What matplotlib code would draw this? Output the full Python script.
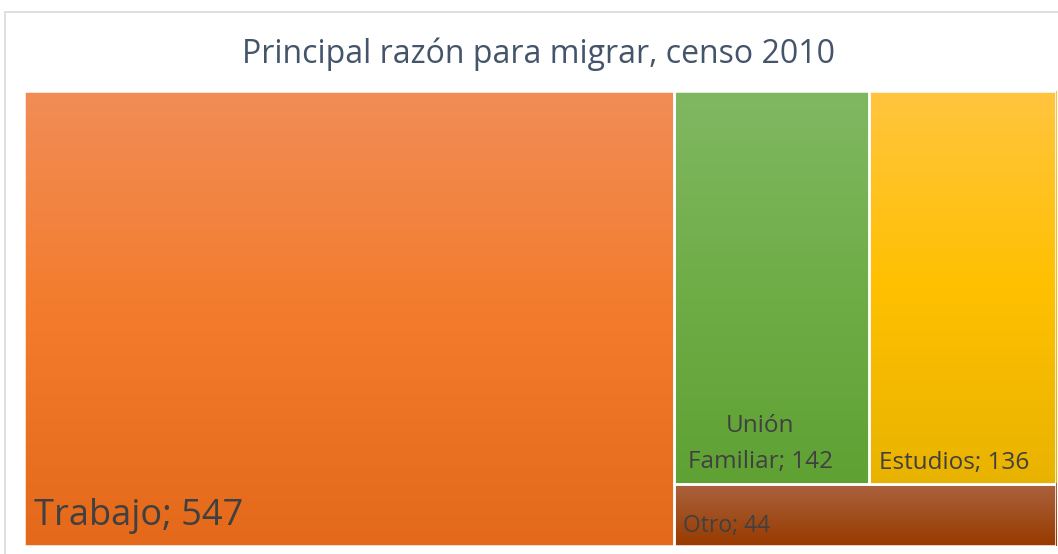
import numpy as np
import matplotlib.pyplot as plt
from matplotlib.colors import to_rgb
from matplotlib.patches import Rectangle

# Values
labels = ['Trabajo', 'Unión Familiar', 'Estudios', 'Otro']
values = [547, 142, 136, 44]
top_colors = ['#F18D57', '#80B862', '#FFC53F', '#AC6240']
mid_colors = ['#F37B2B', '#6FAD47', '#FFC000', '#A04F1E']
bottom_colors = ['#E4691A', '#5FA133', '#E8B300', '#983A00']

plt.rcParams['font.family'] = ['Open Sans', 'DejaVu Sans']

fig = plt.figure(figsize=(10.58, 5.54), dpi=100)
W, H = 1058, 554

# chart border (light gray, extends past right edge)
fig.patches.append(Rectangle((5 / W, -0.01), 1.1, (H - 12) / H + 0.01,
                             transform=fig.transFigure, fill=False,
                             edgecolor='#D9D9D9', lw=1.2))

ax = fig.add_axes([24 / W, 8 / H, 1032 / W, 455 / H])
total = sum(values)
ax.set_xlim(0, total)
ax.set_ylim(0, 1)
ax.axis('off')

# treemap layout: first item takes a column, rest split the right column
rects = []
w0 = values[0]
rects.append((0, 0, w0, 1))
rest = total - w0
h_other = values[3] / rest
rects.append((w0, h_other, values[1] / (values[1] + values[2]) * rest, 1 - h_other))
rects.append((w0 + rects[1][2], h_other, rest - rects[1][2], 1 - h_other))
rects.append((w0, 0, rest, h_other))


def gradient(c1, c2, c3, n=256):
    a, b, c = (np.array(to_rgb(k)) for k in (c1, c2, c3))
    t = np.linspace(0, 1, n)[:, None]
    up = a * (1 - 2 * t) + b * (2 * t)
    down = b * (2 - 2 * t) + c * (2 * t - 1)
    return np.where(t < 0.5, up, down)[:, None, :]


for (x, y, w, h), c1, c2, c3 in zip(rects, top_colors, mid_colors, bottom_colors):
    ax.imshow(gradient(c1, c2, c3), extent=(x, x + w, y, y + h), aspect='auto',
              interpolation='bilinear', zorder=1)
    ax.add_patch(Rectangle((x, y), w, h, fill=False, edgecolor='white', lw=1.8, zorder=2))

txt = '#404040'
x, y, w, h = rects[0]
ax.annotate(f'{labels[0]}; {values[0]}', (x, y), xytext=(7, 9), textcoords='offset points',
            fontsize=26, color=txt, ha='left', va='bottom')
x, y, w, h = rects[1]
ax.annotate('Unión\nFamiliar; 142', (x + w / 2, y), xytext=(-8, 7), textcoords='offset points',
            fontsize=17.5, color=txt, ha='center', va='bottom', multialignment='center',
            linespacing=1.7)
x, y, w, h = rects[2]
ax.annotate(f'{labels[2]}; {values[2]}', (x, y), xytext=(7, 6), textcoords='offset points',
            fontsize=17.5, color=txt, ha='left', va='bottom')
x, y, w, h = rects[3]
ax.annotate(f'{labels[3]}; {values[3]}', (x, y), xytext=(7, 6), textcoords='offset points',
            fontsize=16.5, color=txt, ha='left', va='bottom')

fig.text(539 / W, 1 - 54 / H, 'Principal razón para migrar, censo 2010', ha='center',
         va='center', fontsize=23, color='#44546A')

fig.savefig('out.png', dpi=100)
